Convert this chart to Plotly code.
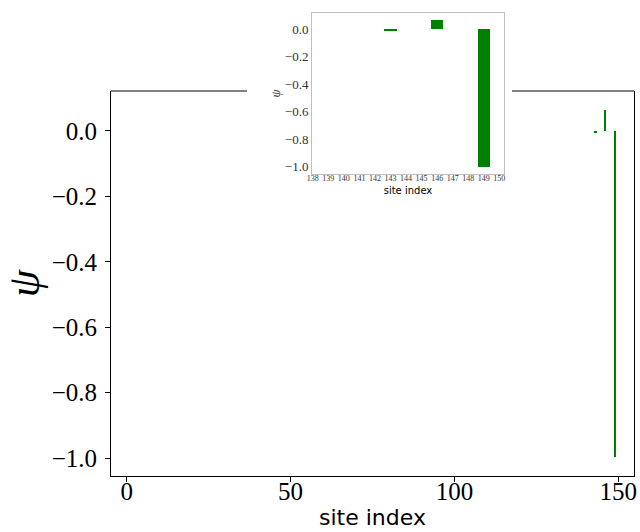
import plotly.graph_objects as go

# data
sites = [143, 146, 149]
psi = [-0.007, 0.065, -0.997]

main_xticks = [0, 50, 100, 150]
yticks = [0.0, -0.2, -0.4, -0.6, -0.8, -1.0]
inset_xticks = list(range(138, 151))

GREEN = "#008000"
SERIF = "Liberation Serif"
SANS = "DejaVu Sans"

fig = go.Figure()
fig.add_trace(go.Bar(x=sites, y=psi, width=0.8, marker=dict(color=GREEN, line=dict(width=0)),
                     xaxis="x", yaxis="y", showlegend=False))
fig.add_trace(go.Bar(x=sites, y=psi, width=0.8, marker=dict(color=GREEN, line=dict(width=0)),
                     xaxis="x2", yaxis="y2", showlegend=False))

W, H = 640, 532
ml, mr, mt, mb = 111, 6, 10, 56
pw, ph = W - ml - mr, H - mt - mb

def px_x(x):
    return (x - ml) / pw

def px_y(y):
    return (H - mb - y) / ph

top_main = px_y(91)

fig.update_layout(
    template="none",
    width=W, height=H,
    margin=dict(l=ml, r=mr, t=mt, b=mb, autoexpand=False),
    plot_bgcolor="white", paper_bgcolor="white",
    bargap=0,
    xaxis=dict(domain=[0, 1], range=[-4.8, 154.8], tickvals=main_xticks, automargin=False,
               showline=True, mirror=False, linecolor="black", linewidth=1,
               ticks="outside", ticklen=5, tickcolor="black", showgrid=False, zeroline=False,
               tickfont=dict(family=SERIF, size=25, color="black"), tickangle=0,
               ticklabelstandoff=-12,
               title=dict(text="site index", font=dict(family=SANS, size=22, color="black"), standoff=5),
               anchor="y"),
    yaxis=dict(domain=[0, top_main], range=[-1.055, 0.122], tickvals=yticks, tickformat=".1f",
               automargin=False,
               showline=True, mirror=True, linecolor="black", linewidth=1,
               ticks="outside", ticklen=5, tickcolor="black", showgrid=False, zeroline=False,
               tickfont=dict(family=SERIF, size=25, color="black"), ticklabelstandoff=3,
               title=dict(text="<i>ψ</i>", font=dict(family=SERIF, size=44, color="black"), standoff=6),
               anchor="x"),
    xaxis2=dict(domain=[px_x(312), px_x(504)], range=[137.95, 150.3], tickvals=inset_xticks,
                automargin=False,
                showline=True, mirror=True, linecolor="#bfbfbf", linewidth=1,
                ticks="", showgrid=False, zeroline=False,
                tickfont=dict(family=SERIF, size=8, color="#333"), tickangle=0,
                ticklabelstandoff=-4,
                title=dict(text="site index", font=dict(family=SANS, size=10, color="black"), standoff=5),
                anchor="y2"),
    yaxis2=dict(domain=[px_y(174), px_y(12.7)], range=[-1.053, 0.118], tickvals=yticks, tickformat=".1f",
                automargin=False,
                showline=True, mirror=True, linecolor="#bfbfbf", linewidth=1,
                ticks="", showgrid=False, zeroline=False,
                tickfont=dict(family=SERIF, size=13, color="#333"),
                title=dict(text="<i>ψ</i>", font=dict(family=SERIF, size=13, color="#333"), standoff=1),
                anchor="x2"),
    shapes=[
        dict(type="line", xref="paper", yref="paper", x0=0, x1=px_x(247), y0=top_main, y1=top_main,
             line=dict(color="black", width=1)),
        dict(type="line", xref="paper", yref="paper", x0=px_x(512), x1=1, y0=top_main, y1=top_main,
             line=dict(color="black", width=1)),
    ],
)

fig.write_html("out.html", config={"displayModeBar": False},
               post_script="document.body.style.margin='0';document.body.style.overflow='hidden';")
